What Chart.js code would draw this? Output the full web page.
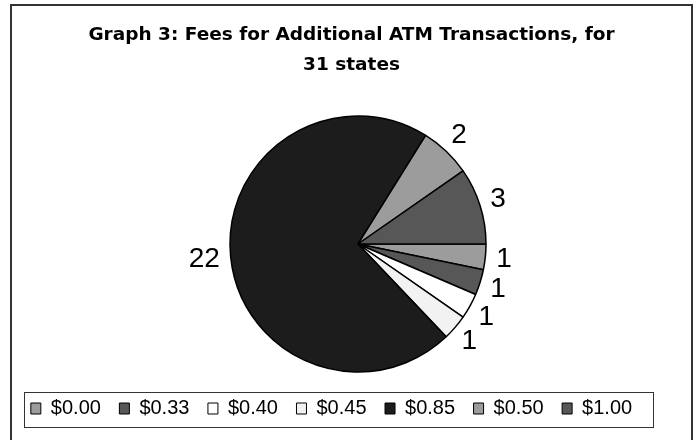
<!DOCTYPE html>
<html><head><meta charset="utf-8">
<script src="https://cdn.jsdelivr.net/npm/chart.js@4/dist/chart.umd.min.js"></script>
<style>html,body{margin:0;padding:0;background:#fff}#wrap{width:694px;height:440px;position:relative}</style>
</head><body><div id="wrap"><canvas id="c" width="694" height="440"></canvas></div>
<script>
// ---- data ----
const categories = ['$0.00', '$0.33', '$0.40', '$0.45', '$0.85', '$0.50', '$1.00'];
const stateCounts = [1, 1, 1, 1, 22, 2, 3];
const titleLines = ['Graph 3: Fees for Additional ATM Transactions, for', '31 states'];
const sliceColors = ['#9c9c9c', '#575757', '#ffffff', '#f2f2f2', '#1c1c1c', '#9c9c9c', '#575757'];

const framePlugin = {
  id: 'frame',
  beforeDraw(chart) {
    const ctx = chart.ctx;
    ctx.save();
    ctx.fillStyle = '#ffffff';
    ctx.fillRect(0, 0, chart.width, chart.height);
    ctx.strokeStyle = '#333333';
    ctx.lineWidth = 2;
    ctx.strokeRect(11, 5, 681, chart.height + 20);
    ctx.restore();
  }
};

const shiftPlugin = {
  id: 'shiftBoxes',
  afterLayout(chart) {
    chart.legend.left -= 26.5; chart.legend.right -= 26.5;
    chart.titleBlock.left -= 6.5; chart.titleBlock.right -= 6.5;
  }
};

const legendFramePlugin = {
  id: 'legendFrame',
  afterDraw(chart) {
    const lg = chart.legend;
    const cx = (lg.left + lg.right) / 2;
    const ctx = chart.ctx;
    ctx.save();
    ctx.strokeStyle = '#333333';
    ctx.lineWidth = 1;
    ctx.strokeRect(Math.round(cx - 308) + 0.5, Math.round(lg.top + 12) + 0.5, 629, 35);
    ctx.restore();
  }
};

const sliceLabelPlugin = {
  id: 'sliceLabels',
  afterDatasetsDraw(chart) {
    const ctx = chart.ctx;
    const meta = chart.getDatasetMeta(0);
    ctx.save();
    ctx.font = '28px "Liberation Sans", Arial, sans-serif';
    ctx.fillStyle = '#000';
    ctx.textAlign = 'center';
    ctx.textBaseline = 'middle';
    meta.data.forEach((arc, i) => {
      const p = arc.getProps(['x', 'y', 'startAngle', 'endAngle', 'outerRadius'], true);
      const mid = (p.startAngle + p.endAngle) / 2;
      const txt = String(chart.data.datasets[0].data[i]);
      const w = ctx.measureText(txt).width / 2;
      const h = 11;
      const c = Math.cos(mid), s = Math.sin(mid);
      const r = p.outerRadius + 11;
      ctx.fillText(txt, p.x + r * c + w * c, p.y + r * s + h * s);
    });
    ctx.restore();
  }
};

new Chart(document.getElementById('c'), {
  type: 'pie',
  data: {
    labels: categories,
    datasets: [{
      data: stateCounts,
      backgroundColor: sliceColors,
      borderColor: '#000000',
      borderWidth: 1.5,
      hoverOffset: 0,
      radius: 128
    }]
  },
  options: {
    responsive: false,
    devicePixelRatio: 1,
    animation: false,
    events: [],
    rotation: 90,
    layout: { padding: { left: 22, right: 0, top: 0, bottom: 11.5 } },
    plugins: {
      tooltip: { enabled: false },
      title: {
        display: true,
        text: titleLines,
        color: '#000',
        font: { family: '"DejaVu Sans", sans-serif', size: 18.5, weight: 'bold', lineHeight: 30 / 18.5 },
        padding: { top: 20, bottom: 28 }
      },
      legend: {
        position: 'bottom',
        labels: {
          boxWidth: 10,
          boxHeight: 11,
          padding: 18.5,
          color: '#000',
          font: { family: '"Liberation Sans", Arial, sans-serif', size: 20 },
          generateLabels(chart) {
            return Chart.overrides.pie.plugins.legend.labels.generateLabels(chart).map(l => Object.assign(l, { lineWidth: 1, strokeStyle: '#000' }));
          }
        }
      }
    }
  },
  plugins: [framePlugin, shiftPlugin, legendFramePlugin, sliceLabelPlugin]
});
</script>
</body></html>
